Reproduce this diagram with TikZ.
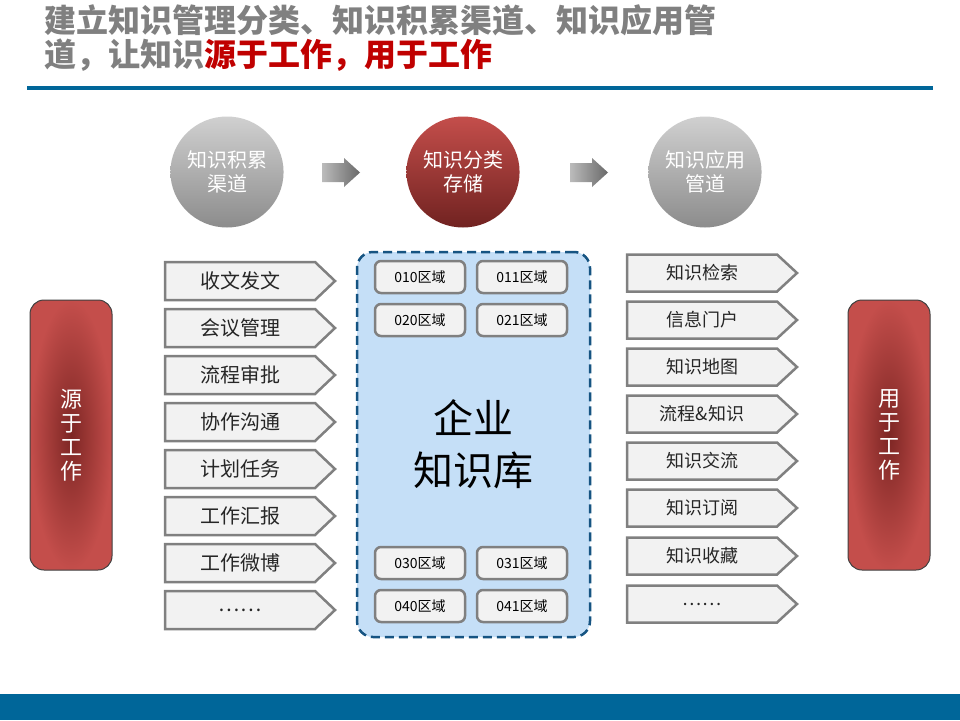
\documentclass[tikz,border=0pt]{standalone}
\usepackage{fontspec}
\setmainfont{Noto Sans CJK SC}
\usetikzlibrary{calc,shapes.geometric,shadings}
\definecolor{titlegray}{RGB}{128,128,128}
\definecolor{titlered}{RGB}{192,0,0}
\definecolor{barblue}{RGB}{0,102,153}
\definecolor{dashblue}{RGB}{22,84,130}
\definecolor{kbfill}{RGB}{197,223,247}
\definecolor{boxfill}{RGB}{242,242,242}
\definecolor{boxline}{RGB}{128,128,128}
\definecolor{redlight}{RGB}{196,78,75}
\definecolor{reddark}{RGB}{125,38,36}
\definecolor{greylight}{RGB}{208,208,208}
\definecolor{greydark}{RGB}{140,140,140}
\definecolor{txt}{RGB}{38,38,38}
\newcommand\pbox[5]{% name, x, y, halfheight, text
  \draw[pboxline] ($(#2,#3)+(-75,-#4)$) -- ++(150,0) -- ++(20,#4) -- ++(-20,#4) -- ++(-150,0) -- cycle;
  \node[pboxtext] (#1) at (#2,#3) {#5};
}
\newcommand\blockarrow[3]{% name, x(left), y(center)
  \coordinate (#1) at (#2,#3);
  \shade[flowarrow] ($(#1)+(0,-9.5)$) -- ++(22,0) -- ++(0,-5) -- ++(16,14.5) -- ++(-16,14.5) -- ++(0,-5) -- ++(-22,0) -- cycle;
}
\begin{document}
\begin{tikzpicture}[x=1pt,y=-1pt,
  pboxline/.style={draw=boxline,line width=2.5pt,fill=boxfill,line join=miter},
  pboxtext/.style={inner sep=0pt,text=txt,font=\fontsize{20}{20}\selectfont},
  zone/.style={draw=boxline,line width=2.5pt,fill=boxfill,rounded corners=6pt,minimum width=90pt,minimum height=32pt,inner sep=0pt,font=\fontsize{14}{14}\selectfont,text=black},
  stage/.style={ellipse,minimum width=96pt,minimum height=111pt,inner sep=0pt,align=center,text=white,font=\fontsize{20}{24}\selectfont},
  flowarrow/.style={left color=greylight!90!black,right color=greydark!75!black},
  sidebar/.style={rectangle,rounded corners=14pt,minimum width=82pt,minimum height=270pt,draw=black!75,line width=1pt,inner color=reddark,outer color=redlight,text=white,align=center,font=\fontsize{22}{24}\selectfont},
  titletext/.style={anchor=west,inner sep=0pt,text=titlegray,font=\bfseries\fontsize{32}{32}\selectfont}
]
\useasboundingbox (0,0) rectangle (960,720);
\fill[white] (0,0) rectangle (960,720);
% title
\node[titletext] (t1) at (44,20) {建立知识管理分类、知识积累渠道、知识应用管};
\node[titletext] (t2) at (44,55) {道，让知识\textcolor{titlered}{源于工作，用于工作}};
\fill[barblue] (27,86) rectangle (933,90);
\fill[barblue] (0,694) rectangle (960,720);
% stages
\node[stage,top color=greylight,bottom color=greydark] (c1) at (227,172) {知识积累\\渠道};
\node[stage,top color=redlight,bottom color=reddark!90!black] (c2) at (463,172) {知识分类\\存储};
\node[stage,top color=greylight,bottom color=greydark] (c3) at (705,172) {知识应用\\管道};
\blockarrow{a1}{322}{172.5}
\blockarrow{a2}{570}{172.5}
% side bars
\node[sidebar] (src) at (71,435) {源\\于\\工\\作};
\node[sidebar] (use) at (889,435) {用\\于\\工\\作};
% left boxes
\pbox{l1}{240}{281}{19}{收文发文}
\pbox{l2}{240}{328}{19}{会议管理}
\pbox{l3}{240}{375}{19}{流程审批}
\pbox{l4}{240}{422}{19}{协作沟通}
\pbox{l5}{240}{469}{19}{计划任务}
\pbox{l6}{240}{516}{19}{工作汇报}
\pbox{l7}{240}{563}{19}{工作微博}
\pbox{l8}{240}{610}{19}{……}
% central store
\node[draw=dashblue,dash pattern=on 9pt off 5pt,line width=2.5pt,rounded corners=16pt,fill=kbfill,minimum width=233pt,minimum height=385pt,inner sep=0pt] (kb) at (473.5,444.5) {};
\node[zone] (z010) at (420,277) {010区域};
\node[zone] (z011) at (522,277) {011区域};
\node[zone] (z020) at (420,320) {020区域};
\node[zone] (z021) at (522,320) {021区域};
\node[zone] (z030) at (420,563) {030区域};
\node[zone] (z031) at (522,563) {031区域};
\node[zone] (z040) at (420,606) {040区域};
\node[zone] (z041) at (522,606) {041区域};
\node[align=center,inner sep=0pt,font=\fontsize{40}{52}\selectfont,text=black] (kbt) at (473,444) {企业\\知识库};
% right boxes
\tikzset{pboxtext/.style={inner sep=0pt,text=txt,font=\fontsize{18}{18}\selectfont}}
\pbox{r1}{702}{273}{18.5}{知识检索}
\pbox{r2}{702}{320}{18.5}{信息门户}
\pbox{r3}{702}{367}{18.5}{知识地图}
\pbox{r4}{702}{414}{18.5}{流程\&知识}
\pbox{r5}{702}{461}{18.5}{知识交流}
\pbox{r6}{702}{508}{18.5}{知识订阅}
\pbox{r7}{702}{556}{18.5}{知识收藏}
\pbox{r8}{702}{604}{18.5}{……}
\end{tikzpicture}
\end{document}
